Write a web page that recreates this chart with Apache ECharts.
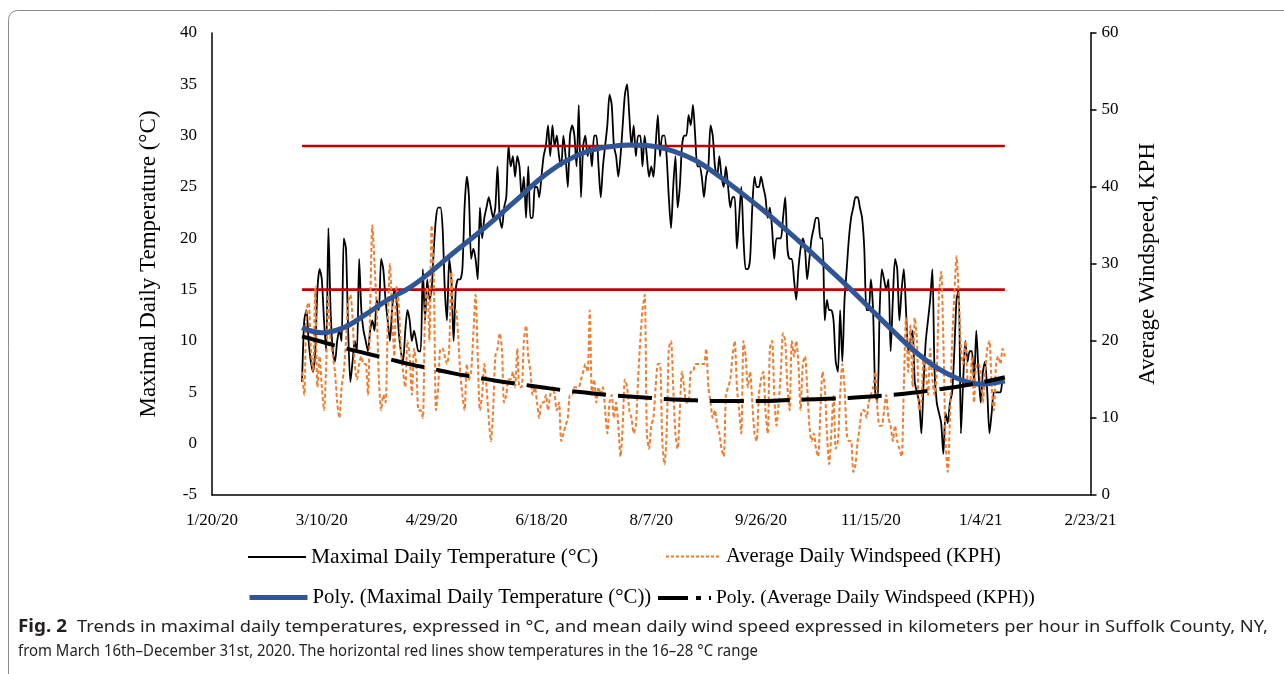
<!DOCTYPE html>
<html>
<head>
<meta charset="utf-8">
<script src="https://cdn.jsdelivr.net/npm/echarts@6/dist/echarts.min.js"></script>
<style>
html,body{margin:0;padding:0;background:#fff;}
#chart{width:1284px;height:674px;}
</style>
</head>
<body>
<div id="chart"></div>
<script>
// ---- data (x = days after 1/20/20) ----
const baseDate = Date.UTC(2020, 0, 20);
const firstDay = 41; // 3/1/20
const xTicks = ['1/20/20','3/10/20','4/29/20','6/18/20','8/7/20','9/26/20','11/15/20','1/4/21','2/23/21'];

const maxTemp = [
  6,12,13,10,8,7,9,15,17,16, 12,9,21,13,9,8,10,11,10,20, 19,11,6,8,10,9,18,13,11,10,
  9,11,12,11,14,13,18,17,14,12, 10,13,15,14,11,9,8,11,13,12, 10,
  11,10,9,9,17,12,16,14,15, 19,22,23,23,21,15,12,18,16,10, 15,16,16,17,23,26,24,18,19,18,
  16,23,20,22,23,24,23,22,23,27, 22,21,23,24,29,27,28,26,28,27, 24,26,22,27,
  22,22,25,25,24,26, 28,29,31,28,31,29,30,28,27,30, 28,25,30,31,30,27,33,24,29,30,
  28,29,27,30,30,27,24,27,29,31, 34,33,29,28,26,28,31,34,35,32, 29,31,28,30,30,27,30,28,
  26,27, 26,29,32,28,30,30,28,24,21,25, 28,23,25,29,30,30,32,31,33,30,
  27,27,26,24,26,27,31,30,27,26, 28,26,25,27,25,23,24,24,19,22, 25,20,17,17,18,23,26,25,25,26, 25,
  24,22,23,21,18,20,20,20,22, 24,19,18,18,16,14,17,19,20,19, 16,18,20,21,22,22,20,20,12,14,
  13,13,12,8,7,13,8,14,17,20, 22,23,24,24,23,22,19,13,13,16, 13,5,4,13,17,
  16,15,16,9,14, 18,17,12,15,17,13,9,10,11,6, 5,4,1,6,10,12,14,17,7,4,
  3,2,-1,3,2,4,5,9,14,15, 1,6,10,8,9,9,6,11,7,4, 7,8,5,1,3,5,5,5,5,6, 6
];

const windSpeed = [
  16,13,24,25,19,16,27,14,18,14, 11,17,26,20,18,16,12,10,14,16, 20,25,26,23,17,15,17,18,17,17,
  13,24,35,30,24,15,11,13,12,22, 30,24,18,27,25,19,16,14,20,18,
  13,19,17,11,11,10,24,27,20,35, 28,11,14,19,19,18,17,19,29,24, 24,21,16,13,11,17,15,16,21,26,
  18,11,13,17,14,10,7,11,18,19, 21,19,12,13,15,15,16,14,19,14, 14,20,22,18,
  16,13,14,12,10,12,12,13,11,13, 14,13,11,12,7,8,9,10,13,13, 14,14,14,15,16,17,16,24,13,15,
  12,14,13,14,11,8,12,13,10,12, 9,5,9,15,14,11,10,8,9,15, 20,24,26,8,
  6,9, 10,14,17,17,7,4,8,19,20,14, 8,6,11,16,14,12,12,16,16,17, 17,17,17,17,19,14,12,10,11,9,
  8,6,5,13,14,15,18,20,14,11, 8,20,18,14,16,12,8,7,13,15, 16,
  11,8,19,20,13,9,12,16,21, 20,14,11,20,18,20,17,11,17,18, 14,9,7,8,6,5,11,16,14,8,
  4,8,13,6,7,13,17,14,8,7, 7,3,4,7,9,11,11,10,12,13, 14,16,11,9,9,
  11,13,10,9,7, 9,7,6,5,14,23,16,22,14,23, 20,11,12,18,16,13,19,15,13,16,
  26,29,20,7,3,10,20,26,31,26, 19,17,20,15,14,18,12,17,17,16, 12,16,19,20,14,11,17,18,17,19, 18
];

const trendDays = [41,50,60,70,80,90,100,110,120,130,140,150,160,170,180,190,200,210,220,230,240,250,260,270,280,290,300,310,320,330,340,350,361];
const tempTrend = [11.3,10.8,11.3,12.6,14.0,15.2,16.8,18.6,20.3,22.1,24.0,25.9,27.4,28.4,28.9,29.1,29.0,28.5,27.6,26.2,24.6,22.9,21.1,19.2,17.2,15.2,13.1,11.0,9.0,7.4,6.3,5.8,6.1];
const windTrend = [20.6,19.9,19.1,18.4,17.7,17.0,16.4,15.8,15.3,14.8,14.4,14.0,13.6,13.3,13.0,12.8,12.6,12.4,12.3,12.2,12.2,12.2,12.3,12.4,12.5,12.6,12.8,13.0,13.3,13.7,14.1,14.6,15.3];

const redLineDays = [41, 361];
const redLineTemps = [15, 29];

const names = {
  temp: 'Maximal Daily Temperature (°C)',
  wind: 'Average Daily Windspeed (KPH)',
  tempPoly: 'Poly. (Maximal Daily Temperature (°C))',
  windPoly: 'Poly. (Average Daily Windspeed (KPH))'
};
const captionBold = 'Fig. 2';
const caption1 = 'Trends in maximal daily temperatures, expressed in °C, and mean daily wind speed expressed in kilometers per hour in Suffolk County, NY,';
const caption2 = 'from March 16th–December 31st, 2020. The horizontal red lines show temperatures in the 16–28 °C range';

// ---- build ----
const serif = "'Liberation Serif','Times New Roman',serif";
const sans = "'Noto Sans','Open Sans',sans-serif";
function fmtDate(v) {
  const d = new Date(baseDate + v * 86400000);
  return (d.getUTCMonth() + 1) + '/' + d.getUTCDate() + '/' + String(d.getUTCFullYear()).slice(2);
}
const tempData = maxTemp.map((v, i) => [firstDay + i, v]);
const windData = windSpeed.map((v, i) => [firstDay + i, v]);
const tempTrendData = trendDays.map((d, i) => [d, tempTrend[i]]);
const windTrendData = trendDays.map((d, i) => [d, windTrend[i]]);

const ctx = document.createElement('canvas').getContext('2d');
function measure(text, font) { ctx.font = font; return ctx.measureText(text).width; }
const capSize = 17;
const capColor = '#231f20';
const boldFont = 'bold ' + capSize + 'px ' + sans;
const normFont = capSize + 'px ' + sans;
const sBold = 49 / measure(captionBold, boldFont);
const s1 = (1268 - 77) / measure(caption1, normFont);
const s2 = (758 - 18) / measure(caption2, normFont);

const captionEls = [
  {type: 'text', x: 18, y: 627, scaleX: sBold, silent: true,
    style: {text: captionBold, font: boldFont, fill: capColor, verticalAlign: 'middle'}},
  {type: 'text', x: 77, y: 627, scaleX: s1, silent: true,
    style: {text: caption1, font: normFont, fill: capColor, verticalAlign: 'middle'}},
  {type: 'text', x: 18, y: 651, scaleX: s2, silent: true,
    style: {text: caption2, font: normFont, fill: capColor, verticalAlign: 'middle'}}
];

const chart = echarts.init(document.getElementById('chart'), null, {renderer: 'canvas'});
function legendItem(name, left, top, lineStyle, w, fs) {
  return {
    data: [name], left: left, top: top, padding: 0, itemWidth: w, itemHeight: 14,
    selectedMode: false, lineStyle: lineStyle, itemStyle: {opacity: 0},
    textStyle: {fontFamily: serif, fontSize: fs, color: '#000'}
  };
}
const option = {
  animation: false,
  backgroundColor: '#fff',
  grid: {left: 212, right: 193.5, top: 33, bottom: 179, containLabel: false},
  xAxis: {
    type: 'value', min: 0, max: 400, interval: 50,
    axisLine: {show: true, onZero: false, lineStyle: {color: '#000', width: 1.5}},
    axisTick: {show: false}, splitLine: {show: false},
    axisLabel: {margin: 17, fontFamily: serif, fontSize: 17, color: '#000',
      formatter: v => xTicks[Math.round(v / 50)] || fmtDate(v)}
  },
  yAxis: [
    {
      type: 'value', min: -5, max: 40, interval: 5, position: 'left',
      name: 'Maximal Daily Temperature (°C)', nameLocation: 'middle', nameGap: 52,
      nameTextStyle: {fontFamily: serif, fontSize: 23, color: '#000'},
      axisLine: {show: true, onZero: false, lineStyle: {color: '#000', width: 1.5}},
      axisTick: {show: false}, splitLine: {show: false},
      axisLabel: {margin: 15, fontFamily: serif, fontSize: 17, color: '#000'}
    },
    {
      type: 'value', min: 0, max: 60, interval: 10, position: 'right',
      name: 'Average Windspeed, KPH', nameLocation: 'middle', nameGap: 46,
      nameTextStyle: {fontFamily: serif, fontSize: 23, color: '#000'},
      axisLine: {show: true, onZero: false, lineStyle: {color: '#000', width: 1.5}},
      axisTick: {show: true, length: 6, lineStyle: {color: '#000', width: 1.5}},
      splitLine: {show: false},
      axisLabel: {margin: 11, fontFamily: serif, fontSize: 17, color: '#000'}
    }
  ],
  legend: [
    legendItem(names.temp, 247, 546, {color: '#000', width: 2}, 58, 21.5),
    legendItem(names.wind, 665, 546, {color: '#ED7D31', width: 2, type: [3, 2]}, 55, 20.5),
    legendItem(names.tempPoly, 247, 587, {color: '#2F5597', width: 5}, 58, 20.8),
    legendItem(names.windPoly, 656, 588, {color: '#000', width: 4, type: [30, 8, 5, 8]}, 53, 19.5)
  ],
  series: [
    {name: names.temp, type: 'line', data: tempData, yAxisIndex: 0, symbol: 'none', smooth: 0.25,
      lineStyle: {color: '#000', width: 1.8}, itemStyle: {color: '#000'}, z: 2},
    {name: 'lower', type: 'line', data: redLineDays.map(d => [d, redLineTemps[0]]), yAxisIndex: 0,
      symbol: 'none', lineStyle: {color: '#C00000', width: 2.6}, silent: true, z: 3},
    {name: 'upper', type: 'line', data: redLineDays.map(d => [d, redLineTemps[1]]), yAxisIndex: 0,
      symbol: 'none', lineStyle: {color: '#C00000', width: 2.6}, silent: true, z: 3},
    {name: names.wind, type: 'line', data: windData, yAxisIndex: 1, symbol: 'none', smooth: 0.25,
      lineStyle: {color: '#ED7D31', width: 2, type: [4, 2.5]}, itemStyle: {color: '#ED7D31'}, z: 4},
    {name: names.tempPoly, type: 'line', data: tempTrendData, yAxisIndex: 0, symbol: 'none', smooth: 0.4,
      lineStyle: {color: '#2F5597', width: 5}, itemStyle: {color: '#2F5597'}, z: 5},
    {name: names.windPoly, type: 'line', data: windTrendData, yAxisIndex: 1, symbol: 'none', smooth: 0.4,
      lineStyle: {color: '#000', width: 4, type: [34, 12]}, itemStyle: {color: '#000'}, z: 6}
  ],
  graphic: [
    {type: 'rect', silent: true, shape: {x: 8.5, y: 10.5, width: 1320, height: 720, r: 9},
      style: {fill: 'none', stroke: '#8c8c8c', lineWidth: 1}}
  ].concat(captionEls)
};
chart.setOption(option);
</script>
</body>
</html>
